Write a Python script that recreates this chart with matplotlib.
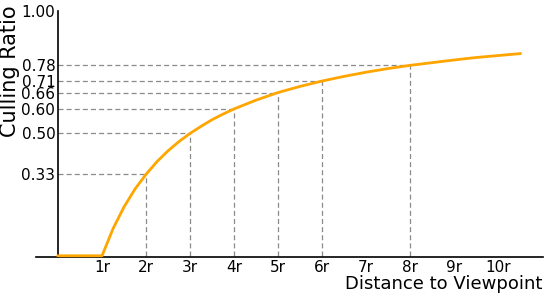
import matplotlib
matplotlib.use("Agg")
import matplotlib.pyplot as plt

# curve
distance = [0, 1, 1.25, 1.5, 1.75, 2, 2.25, 2.5, 2.75, 3, 3.25, 3.5, 3.75, 4,
            4.5, 5, 5.5, 6, 6.5, 7, 7.5, 8, 8.5, 9, 9.5, 10, 10.5]
ratio = [0, 0, 0.111, 0.2, 0.273, 0.333, 0.385, 0.429, 0.467, 0.5, 0.529, 0.556,
         0.579, 0.6, 0.636, 0.667, 0.692, 0.714, 0.733, 0.75, 0.765, 0.778,
         0.789, 0.8, 0.810, 0.818, 0.826]

# marked guide points
mark_x = [2, 3, 4, 5, 6, 8]
mark_y = [0.333, 0.5, 0.6, 0.667, 0.714, 0.778]

xtick_vals = [1, 2, 3, 4, 5, 6, 7, 8, 9, 10]
xtick_labels = ["1r", "2r", "3r", "4r", "5r", "6r", "7r", "8r", "9r", "10r"]
ytick_vals = [0.333, 0.5, 0.6, 0.667, 0.714, 0.778, 1.0]
ytick_labels = ["0.33", "0.50", "0.60", "0.66", "0.71", "0.78", "1.00"]

fig = plt.figure(figsize=(5.5, 2.99), dpi=100)
ax = fig.add_axes([0.0655, 0.1405, 0.922, 0.8227])

for mx, my in zip(mark_x, mark_y):
    ax.plot([0, mx], [my, my], ls=(0, (4, 2.5)), color="#8a8a8a", lw=0.9)
    ax.plot([mx, mx], [0, my], ls=(0, (4, 2.5)), color="#8a8a8a", lw=0.9)

ax.plot(distance, ratio, color="#FFA500", lw=2, clip_on=False, zorder=3)

ax.set_xlim(-0.5, 11.02)
ax.set_ylim(-0.005, 1.0)
ax.spines["left"].set_position(("data", 0))
ax.spines["left"].set_bounds(-0.005, 1.0)
ax.spines["bottom"].set_position(("data", -0.005))
ax.spines["top"].set_visible(False)
ax.spines["right"].set_visible(False)
for s in ("left", "bottom"):
    ax.spines[s].set_linewidth(1.2)

ax.set_xticks(xtick_vals)
ax.set_xticklabels(xtick_labels)
ax.set_yticks(ytick_vals)
ax.set_yticklabels(ytick_labels)
ax.tick_params(axis="both", length=0, labelsize=11, pad=2)

fig.text(0.019, 0.762, "Culling Ratio", rotation=90, fontsize=15,
         ha="center", va="center")
fig.text(0.9855, 0.05, "Distance to Viewpoint", fontsize=13,
         ha="right", va="center")

fig.savefig("out.png", dpi=100)
